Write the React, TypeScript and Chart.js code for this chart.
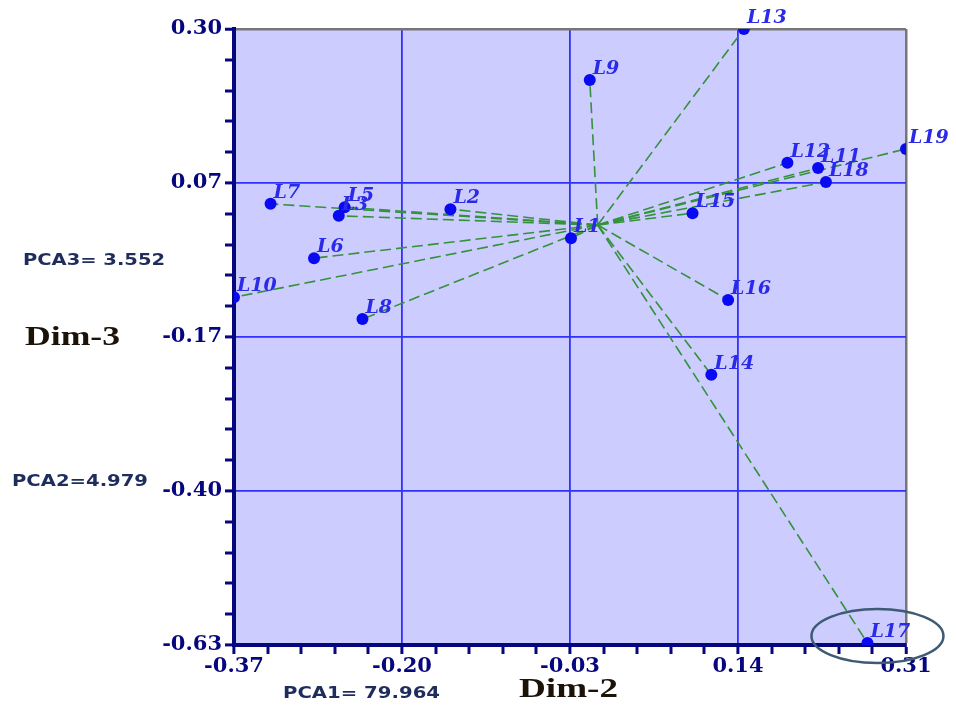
import React, { useEffect, useRef } from 'react';
import { Chart, registerables } from 'chart.js';
Chart.register(...registerables);

// ---- data ----
const pointLabels = ['L1', 'L2', 'L3', 'L5', 'L6', 'L7', 'L8', 'L9', 'L10', 'L11', 'L12', 'L13', 'L14', 'L15', 'L16', 'L17', 'L18', 'L19'];
const dim2Values = [-0.029, -0.151, -0.264, -0.258, -0.289, -0.333, -0.240, -0.010, -0.370, 0.221, 0.190, 0.146, 0.113, 0.094, 0.130, 0.271, 0.229, 0.310];
const dim3Values = [-0.016, 0.028, 0.018, 0.031, -0.046, 0.036, -0.138, 0.223, -0.105, 0.090, 0.098, 0.300, -0.222, 0.022, -0.109, -0.627, 0.069, 0.119];
const hubDim2 = -0.002;
const hubDim3 = 0.004;
const xTickLabels = ['-0.37', '-0.20', '-0.03', '0.14', '0.31'];
const yTickLabels = ['-0.63', '-0.40', '-0.17', '0.07', '0.30'];
const xMin = -0.37, xMax = 0.31;
const yMin = -0.63, yMax = 0.30;
const pcaTexts = ['PCA1= 79.964', 'PCA2=4.979', 'PCA3= 3.552'];
const axisTitles = ['Dim-2', 'Dim-3'];
const circledLabel = 'L17';

const NAVY = '#06067e';
const GRID_BLUE = '#3030ff';
const EDGE_GRAY = '#767676';
const GREEN = '#34923a';
const POINT_BLUE = '#0a0af2';
const LABEL_BLUE = '#2a2ae8';

function stretchText(ctx: CanvasRenderingContext2D, text: string, x: number, y: number, font: string, color: string, width: number) {
  ctx.save();
  ctx.font = font;
  ctx.fillStyle = color;
  ctx.textAlign = 'left';
  ctx.textBaseline = 'middle';
  const w = ctx.measureText(text).width;
  ctx.translate(x, y);
  ctx.scale(width / w, 1);
  ctx.fillText(text, 0, 0);
  ctx.restore();
}

const decor = {
  id: 'decor',
  beforeDraw(chart: any) {
    const { ctx, chartArea } = chart;
    ctx.save();
    ctx.fillStyle = '#ffffff';
    ctx.fillRect(0, 0, chart.width, chart.height);
    ctx.fillStyle = '#ccccff';
    ctx.fillRect(chartArea.left, chartArea.top, chartArea.right - chartArea.left, chartArea.bottom - chartArea.top);
    ctx.restore();
  },
  afterDatasetsDraw(chart: any) {
    const { ctx } = chart;
    const xs = chart.scales.x;
    const ys = chart.scales.y;
    ctx.save();
    ctx.font = 'italic bold 19px "DejaVu Serif"';
    ctx.fillStyle = LABEL_BLUE;
    ctx.textAlign = 'left';
    ctx.textBaseline = 'alphabetic';
    pointLabels.forEach((lab, i) => {
      const px = xs.getPixelForValue(dim2Values[i]);
      const py = ys.getPixelForValue(dim3Values[i]);
      ctx.fillText(lab, px + 3, py - 6);
    });
    ctx.restore();
  },
  afterDraw(chart: any) {
    const { ctx } = chart;
    const xs = chart.scales.x;
    const ys = chart.scales.y;
    stretchText(ctx, axisTitles[1], 25, 338, 'bold 27px "Liberation Serif"', '#1b1208', 95);
    stretchText(ctx, axisTitles[0], 519, 690, 'bold 27px "Liberation Serif"', '#1b1208', 99);
    stretchText(ctx, pcaTexts[2], 23, 261, 'bold 15px "DejaVu Sans"', '#1e2d5c', 142);
    stretchText(ctx, pcaTexts[1], 12, 482, 'bold 15px "DejaVu Sans"', '#1e2d5c', 136);
    stretchText(ctx, pcaTexts[0], 283, 694, 'bold 15px "DejaVu Sans"', '#1e2d5c', 157);
    const k = pointLabels.indexOf(circledLabel);
    const cx = xs.getPixelForValue(dim2Values[k]) + 10;
    const cy = ys.getPixelForValue(dim3Values[k]) - 7;
    ctx.save();
    ctx.strokeStyle = '#3e5a74';
    ctx.lineWidth = 2.5;
    ctx.beginPath();
    ctx.ellipse(cx, cy, 66, 27, 0, 0, Math.PI * 2);
    ctx.stroke();
    ctx.restore();
  },
};

function gridColor(ctx: any) {
  const i = ctx.index;
  if (i === 0) return NAVY;
  if (i === 20) return EDGE_GRAY;
  if (i % 5 === 0) return GRID_BLUE;
  return 'rgba(0,0,0,0)';
}
function gridWidth(ctx: any) {
  const i = ctx.index;
  if (i === 20) return 2.5;
  if (i % 5 === 0) return 1.8;
  return 0;
}

export default function App() {
  const ref = useRef<HTMLCanvasElement | null>(null);
  useEffect(() => {
    if (!ref.current) return;
    const points = dim2Values.map((x, i) => ({ x, y: dim3Values[i] }));
    const lineSets = points.map((p) => ({
      type: 'scatter' as const,
      data: [{ x: hubDim2, y: hubDim3 }, p],
      showLine: true,
      borderColor: GREEN,
      borderWidth: 1.6,
      borderDash: [11, 5],
      pointRadius: 0,
      fill: false,
    }));
    const chart = new Chart(ref.current, {
      type: 'scatter',
      data: {
        datasets: [
          {
            data: points,
            pointRadius: 6,
            pointBackgroundColor: POINT_BLUE,
            pointBorderColor: POINT_BLUE,
            pointBorderWidth: 0,
            showLine: false,
          } as any,
          ...lineSets,
        ],
      },
      options: {
        animation: false,
        responsive: false,
        maintainAspectRatio: false,
        layout: { padding: { top: 29, right: 50, left: 0, bottom: 0 } },
        plugins: { legend: { display: false }, tooltip: { enabled: false } },
        scales: {
          x: {
            type: 'linear',
            min: xMin,
            max: xMax,
            afterBuildTicks: (s: any) => {
              s.ticks = Array.from({ length: 21 }, (_, i) => ({ value: xMin + (i * (xMax - xMin)) / 20 }));
            },
            afterFit: (s: any) => { s.height = 63; },
            ticks: {
              autoSkip: false,
              maxRotation: 0,
              minRotation: 0,
              padding: 0,
              color: NAVY,
              font: { family: '"DejaVu Serif"', size: 21, weight: 'bold' },
              callback: (_v: any, i: number) => (i % 5 === 0 ? xTickLabels[i / 5] : ''),
            },
            grid: {
              color: gridColor,
              lineWidth: gridWidth,
              drawTicks: true,
              tickLength: 9,
              tickColor: NAVY,
              tickWidth: 3,
            },
            border: { color: NAVY, width: 4 },
          },
          y: {
            type: 'linear',
            min: yMin,
            max: yMax,
            afterBuildTicks: (s: any) => {
              s.ticks = Array.from({ length: 21 }, (_, i) => ({ value: yMin + (i * (yMax - yMin)) / 20 }));
            },
            afterFit: (s: any) => { s.width = 234; },
            ticks: {
              autoSkip: false,
              padding: 3,
              color: NAVY,
              font: { family: '"DejaVu Serif"', size: 21, weight: 'bold' },
              callback: (_v: any, i: number) => (i % 5 === 0 ? yTickLabels[i / 5] : ''),
            },
            grid: {
              color: gridColor,
              lineWidth: gridWidth,
              drawTicks: true,
              tickLength: 9,
              tickColor: NAVY,
              tickWidth: 3,
            },
            border: { color: NAVY, width: 4 },
          },
        },
      } as any,
      plugins: [decor],
    });
    return () => chart.destroy();
  }, []);
  return (
    <div style={{ position: 'fixed', left: 0, top: 0, width: 956, height: 708, background: '#fff' }}>
      <canvas ref={ref} width={956} height={708} style={{ display: 'block', width: 956, height: 708 }} />
    </div>
  );
}
